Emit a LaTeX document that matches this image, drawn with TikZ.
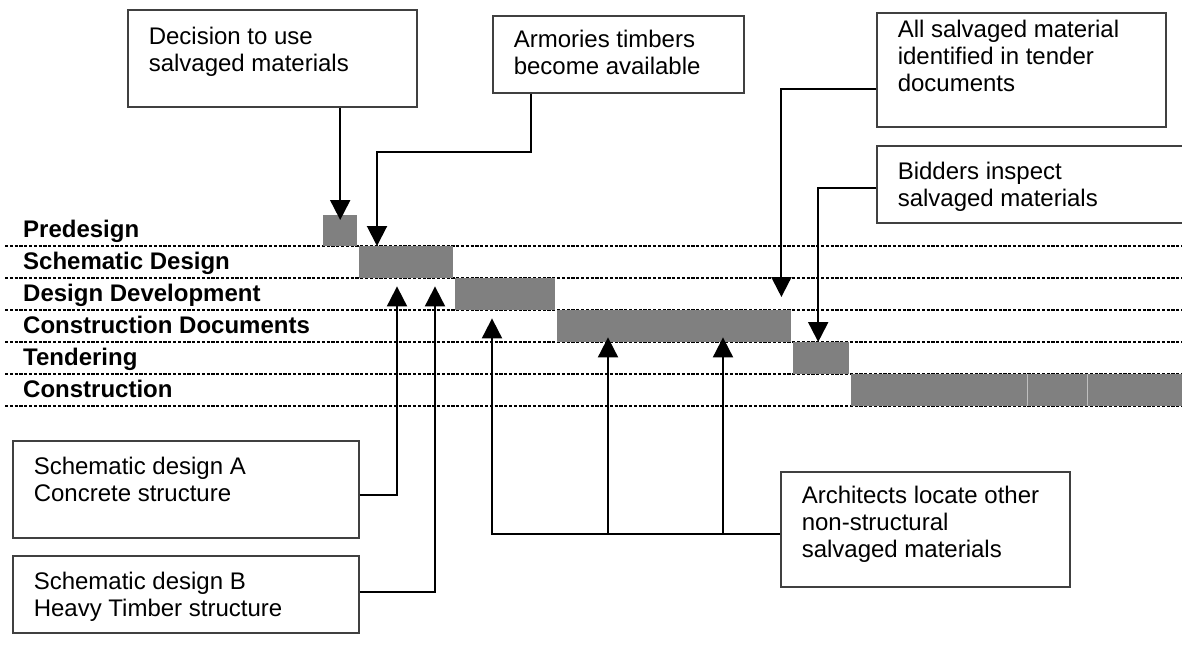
\documentclass[tikz,border=0pt]{standalone}
\usepackage{fontspec}
\setmainfont{Liberation Sans}
\usepackage{tikz}
\usetikzlibrary{arrows.meta}

\definecolor{boxgray}{RGB}{64,64,64}
\newcommand{\notebody}[4]{\parbox[c][#2pt][t]{#1pt}{\vspace*{#3pt}\strut#4}}

\begin{document}
\begin{tikzpicture}[x=1pt, y=-1pt, >={Triangle[length=20pt, width=20pt]}]

	\tikzstyle{phase} = [font=\bfseries\fontsize{24}{27}\selectfont, anchor=base west, inner sep=0pt]
	\tikzstyle{bar} = [fill=gray, inner sep=0pt, anchor=north west]
	\tikzstyle{note} = [draw=boxgray, line width=1.5pt, fill=white, inner xsep=21pt, inner ysep=0pt, anchor=north west, font=\fontsize{24}{27}\selectfont]
	\tikzstyle{row} = [line width=2.6pt, dash pattern=on 3.2pt off 1.6pt]
	\tikzstyle{link} = [line width=2pt]

	\useasboundingbox (0,0) rectangle (1182,654);
	\clip (0,0) rectangle (1182,654);

	% Phase rows
	\foreach \y/\phase in {246/Predesign, 278/Schematic Design, 310/Design Development, 342/Construction Documents, 374/Tendering, 406/Construction}{
		\draw[row] (5,\y) -- (1182,\y);
		\node[phase] (ph\y) at (23,\y-9) {\phase};
	}

	% Define bars
	\node[bar, minimum width=34pt, minimum height=31pt] (pre) at (323,215) {};
	\node[bar, minimum width=94pt, minimum height=32pt] (sd) at (359,246) {};
	\node[bar, minimum width=100pt, minimum height=32pt] (dd) at (455,278) {};
	\node[bar, minimum width=234pt, minimum height=32pt] (cd) at (557,310) {};
	\node[bar, minimum width=56pt, minimum height=32pt] (ten) at (793,342) {};
	\node[bar, minimum width=335pt, minimum height=32pt] (con) at (851,374) {};
	\draw[gray!50, line width=1pt] ([xshift=176pt]con.north west) -- ([xshift=176pt]con.south west);
	\draw[gray!50, line width=1pt] ([xshift=236pt]con.north west) -- ([xshift=236pt]con.south west);

	% Define notes
	\node[note] (dec) at (127,9) {\notebody{247}{97}{15.4}{Decision to use\\salvaged materials}};
	\node[note] (arm) at (492,15) {\notebody{209}{77}{12.8}{Armories timbers\\become available}};
	\node[note] (all) at (876,12) {\notebody{247}{114}{5.4}{All salvaged material\\identified in tender\\documents}};
	\node[note] (bid) at (876,145) {\notebody{268}{77}{15}{Bidders inspect\\salvaged materials}};
	\node[note] (sdA) at (12,440) {\notebody{304}{97}{14.4}{Schematic design A\\Concrete structure}};
	\node[note] (sdB) at (12,555) {\notebody{304}{77}{14.4}{Schematic design B\\Heavy Timber structure}};
	\node[note] (arch) at (780,471) {\notebody{247}{115}{13.1}{Architects locate other\\non-structural\\salvaged materials}};

	% Draw arrows
	\draw[link, ->] (dec.south -| pre.north) -- ([yshift=-5pt]pre.north);
	\draw[link, ->] ([xshift=39pt]arm.south west) -- ++(0,58) -| ([xshift=18pt]sd.north west);
	\draw[link, ->] ([yshift=39pt]all.south west) -| ([xshift=-10pt, yshift=13pt]cd.north east);
	\draw[link, ->] ([yshift=-4pt]bid.west) -| ([xshift=-3pt]ten.north);
	\draw[link, ->] ([yshift=-6pt]sdA.east) -| ([xshift=38pt, yshift=-8pt]sd.south west);
	\draw[link, ->] ([yshift=2pt]sdB.east) -| ([xshift=76pt, yshift=-8pt]sd.south west);

	\coordinate (archlink) at ([yshift=-5pt]arch.west);
	\coordinate (cdtipA) at ([xshift=51pt, yshift=5pt]cd.south west);
	\coordinate (cdtipB) at ([xshift=166pt, yshift=5pt]cd.south west);
	\draw[link, ->] (archlink) -| ([xshift=37pt, yshift=-8pt]dd.south west);
	\draw[link, ->] (cdtipA |- archlink) -- (cdtipA);
	\draw[link, ->] (cdtipB |- archlink) -- (cdtipB);

\end{tikzpicture}
\end{document}
